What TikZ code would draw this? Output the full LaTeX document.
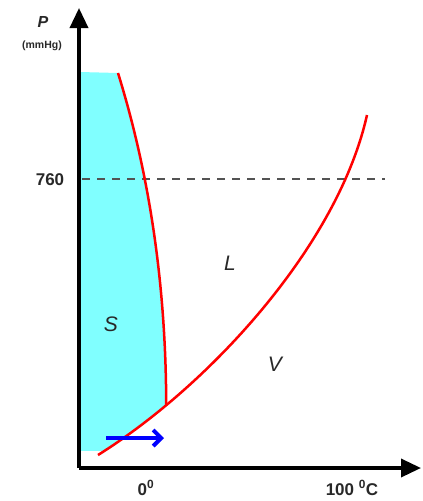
\documentclass[tikz,border=0pt]{standalone}
\usepackage{fontspec}
\setmainfont{Liberation Sans}
\usetikzlibrary{arrows.meta}
\definecolor{solidcyan}{RGB}{128,255,255}
\definecolor{lbl}{RGB}{40,40,40}
\tikzset{
  axis/.style={line width=3.5pt, -{Triangle[length=20pt,width=18pt]}},
  phase/.style={red, line width=2.5pt},
  lab/.style={text=lbl, font=\fontsize{21}{24}\selectfont\itshape},
  tick/.style={text=lbl, font=\fontsize{17}{19}\selectfont\bfseries},
}
\begin{document}
\begin{tikzpicture}[x=1pt,y=-1pt]
\useasboundingbox (0,0) rectangle (423,501);
\coordinate (mtop) at (118,73);
\coordinate (trip) at (166.2,405.2);
\coordinate (vbot) at (98,455);
\coordinate (vtop) at (367,115);
% solid region
\begin{scope}
\clip (80,72) rectangle (200,450);
\fill[solidcyan] (80,72) -- (mtop) .. controls (145,160) and (166,270) .. (trip)
  .. controls (143.4,424.2) and (120.4,441) .. (vbot) -- (80,455) -- cycle;
\end{scope}
% dashed 760 line
\draw[lbl!80, line width=1.8pt, dash pattern=on 8pt off 7pt] (82,179) -- (385,179);
% phase curves
\draw[phase] (mtop) .. controls (145,160) and (166,270) .. (trip);
\draw[phase] (vbot) .. controls (210,385) and (338,245) .. (vtop);
% axes
\coordinate (o) at (79,468);
\coordinate (ytip) at (79,8);
\coordinate (xtip) at (421,468);
\draw[axis] (o) -- (ytip);
\draw[axis] (79,468) -- (xtip);
% blue arrow
\coordinate (b1) at (106,438);
\coordinate (b2) at (164,438);
\draw[blue, line width=4pt, -{Straight Barb[length=8pt,width=16pt,line width=4pt]}] (b1) -- (b2);
% labels
\node[text=lbl, font=\fontsize{16}{18}\selectfont\itshape\bfseries] (p) at (43,22) {P};
\node[text=lbl, font=\fontsize{10.5}{12}\selectfont\bfseries] (unit) at (42,46) {(mmHg)};
\node[tick] (t760) at (50,180) {760};
\node[lab] (s) at (111,324) {S};
\node[lab] (l) at (230,263) {L};
\node[lab] (v) at (275,364) {V};
\node[tick] (z) at (146,488) {0\textsuperscript{0}};
\node[tick] (h) at (352,488) {100 \textsuperscript{0}C};
\end{tikzpicture}
\end{document}
